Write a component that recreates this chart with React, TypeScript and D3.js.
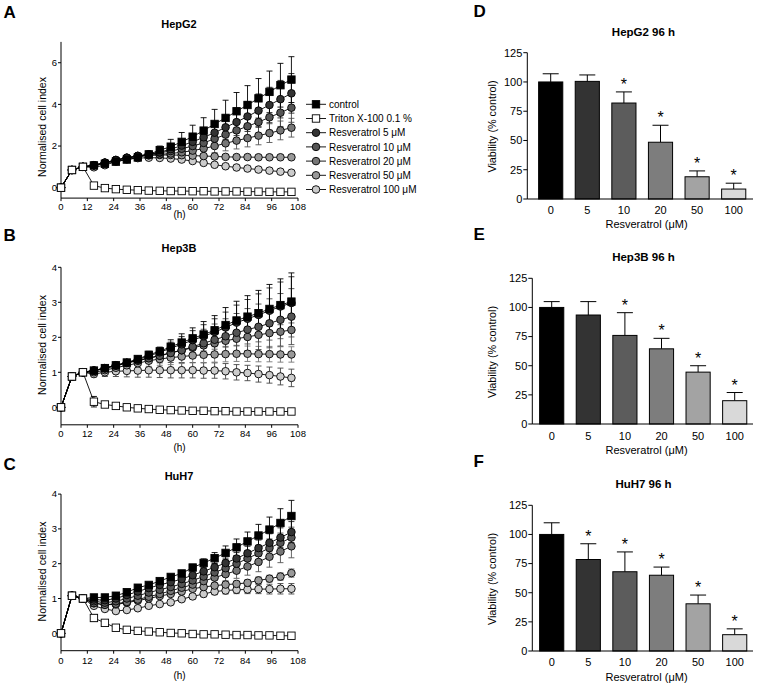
import React from 'react';
import * as d3 from 'd3';

const FONT = '"Liberation Sans", Arial, Helvetica, sans-serif';

// ---------- time-course data ----------
const hours = [0, 5, 10, 15, 20, 25, 30, 35, 40, 45, 50, 55, 60, 65, 70, 75, 80, 85, 90, 95, 100, 105];
const hourTicks = [0, 12, 24, 36, 48, 60, 72, 84, 96, 108];
const seriesLabels = [
  'control',
  'Triton X-100 0.1 %',
  'Resveratrol 5 μM',
  'Resveratrol 10 μM',
  'Resveratrol 20 μM',
  'Resveratrol 50 μM',
  'Resveratrol 100 μM',
];

// HepG2
const hepg2Control = [0, 0.85, 1.0, 1.07, 1.15, 1.25, 1.35, 1.45, 1.6, 1.8, 1.97, 2.2, 2.45, 2.74, 3.06, 3.35, 3.67, 3.97, 4.29, 4.6, 4.92, 5.19];
const hepg2ControlErr = [0, 0.03, 0, 0.04, 0.05, 0.06, 0.08, 0.1, 0.14, 0.2, 0.35, 0.45, 0.55, 0.62, 0.7, 0.85, 0.9, 0.93, 0.95, 1.0, 1.05, 1.1];
const hepg2Triton = [0, 0.85, 1.0, 0.1, -0.02, -0.07, -0.1, -0.12, -0.14, -0.15, -0.16, -0.16, -0.17, -0.17, -0.18, -0.18, -0.18, -0.19, -0.19, -0.2, -0.2, -0.2];
const hepg2TritonErr = [0, 0.02, 0, 0.04, 0.03, 0.03, 0.02, 0.02, 0.02, 0.02, 0.02, 0.02, 0.02, 0.02, 0.02, 0.02, 0.02, 0.02, 0.02, 0.02, 0.02, 0.02];
const hepg2R5 = [0, 0.85, 1.0, 1.08, 1.2, 1.32, 1.43, 1.52, 1.6, 1.7, 1.85, 2.02, 2.2, 2.42, 2.64, 2.9, 3.15, 3.42, 3.7, 3.97, 4.25, 4.53];
const hepg2R5Err = [0, 0.03, 0, 0.04, 0.05, 0.06, 0.07, 0.08, 0.1, 0.14, 0.22, 0.28, 0.35, 0.42, 0.5, 0.58, 0.65, 0.72, 0.8, 0.85, 0.9, 0.95];
const hepg2R10 = [0, 0.85, 1.0, 1.08, 1.2, 1.33, 1.44, 1.53, 1.6, 1.68, 1.76, 1.87, 2.0, 2.15, 2.35, 2.55, 2.75, 2.95, 3.15, 3.38, 3.6, 3.84];
const hepg2R10Err = [0, 0.03, 0, 0.04, 0.05, 0.06, 0.07, 0.08, 0.09, 0.12, 0.18, 0.22, 0.27, 0.32, 0.38, 0.44, 0.5, 0.55, 0.6, 0.62, 0.66, 0.7];
const hepg2R20 = [0, 0.85, 1.0, 1.08, 1.2, 1.33, 1.44, 1.52, 1.57, 1.6, 1.64, 1.7, 1.78, 1.88, 2.0, 2.13, 2.26, 2.38, 2.5, 2.62, 2.75, 2.88];
const hepg2R20Err = [0, 0.03, 0, 0.04, 0.05, 0.06, 0.07, 0.08, 0.09, 0.1, 0.14, 0.18, 0.22, 0.28, 0.32, 0.36, 0.4, 0.42, 0.44, 0.45, 0.45, 0.45];
const hepg2R50 = [0, 0.85, 1.0, 1.07, 1.2, 1.32, 1.42, 1.5, 1.55, 1.57, 1.57, 1.56, 1.54, 1.52, 1.5, 1.48, 1.47, 1.47, 1.46, 1.46, 1.46, 1.46];
const hepg2R50Err = [0, 0.03, 0, 0.03, 0.04, 0.05, 0.05, 0.06, 0.07, 0.08, 0.09, 0.1, 0.1, 0.1, 0.1, 0.1, 0.1, 0.1, 0.1, 0.1, 0.1, 0.1];
const hepg2R100 = [0, 0.85, 1.0, 0.98, 1.08, 1.25, 1.36, 1.42, 1.44, 1.43, 1.4, 1.35, 1.28, 1.19, 1.1, 1.03, 0.97, 0.92, 0.87, 0.82, 0.77, 0.72];
const hepg2R100Err = [0, 0.03, 0, 0.04, 0.05, 0.05, 0.06, 0.06, 0.06, 0.07, 0.07, 0.07, 0.08, 0.08, 0.08, 0.08, 0.08, 0.08, 0.08, 0.08, 0.08, 0.08];

// Hep3B
const hep3bControl = [0, 0.88, 1.0, 1.05, 1.12, 1.2, 1.28, 1.38, 1.5, 1.6, 1.73, 1.85, 1.97, 2.08, 2.2, 2.35, 2.48, 2.59, 2.69, 2.81, 2.92, 3.02];
const hep3bControlErr = [0, 0.02, 0, 0.03, 0.04, 0.05, 0.06, 0.08, 0.1, 0.12, 0.2, 0.25, 0.3, 0.37, 0.42, 0.5, 0.55, 0.6, 0.65, 0.7, 0.75, 0.82];
const hep3bTriton = [0, 0.88, 1.0, 0.16, 0.08, 0.04, 0.0, -0.03, -0.05, -0.07, -0.08, -0.09, -0.1, -0.1, -0.11, -0.11, -0.12, -0.12, -0.12, -0.12, -0.12, -0.12];
const hep3bTritonErr = [0, 0.02, 0, 0.15, 0.06, 0.03, 0.02, 0.02, 0.02, 0.02, 0.02, 0.02, 0.02, 0.02, 0.02, 0.02, 0.02, 0.02, 0.02, 0.02, 0.02, 0.02];
const hep3bR5 = [0, 0.88, 1.0, 1.05, 1.11, 1.19, 1.27, 1.36, 1.47, 1.57, 1.69, 1.8, 1.92, 2.03, 2.15, 2.28, 2.42, 2.53, 2.64, 2.76, 2.88, 2.98];
const hep3bR5Err = [0, 0.02, 0, 0.03, 0.04, 0.05, 0.06, 0.07, 0.09, 0.11, 0.17, 0.22, 0.27, 0.33, 0.38, 0.44, 0.5, 0.55, 0.6, 0.65, 0.7, 0.75];
const hep3bR10 = [0, 0.88, 1.0, 1.05, 1.12, 1.2, 1.27, 1.33, 1.4, 1.47, 1.55, 1.63, 1.73, 1.83, 1.93, 2.03, 2.13, 2.22, 2.3, 2.4, 2.5, 2.59];
const hep3bR10Err = [0, 0.02, 0, 0.03, 0.04, 0.05, 0.06, 0.07, 0.08, 0.1, 0.15, 0.2, 0.3, 0.4, 0.45, 0.5, 0.55, 0.6, 0.65, 0.7, 0.75, 0.8];
const hep3bR20 = [0, 0.88, 1.0, 1.05, 1.12, 1.2, 1.27, 1.34, 1.41, 1.48, 1.56, 1.63, 1.7, 1.77, 1.83, 1.9, 1.96, 2.01, 2.07, 2.12, 2.16, 2.21];
const hep3bR20Err = [0, 0.02, 0, 0.03, 0.04, 0.05, 0.06, 0.07, 0.08, 0.1, 0.12, 0.14, 0.15, 0.16, 0.17, 0.18, 0.19, 0.2, 0.2, 0.2, 0.2, 0.2];
const hep3bR50 = [0, 0.88, 1.0, 1.0, 1.06, 1.13, 1.2, 1.26, 1.33, 1.38, 1.42, 1.45, 1.48, 1.5, 1.51, 1.52, 1.53, 1.53, 1.52, 1.52, 1.51, 1.51];
const hep3bR50Err = [0, 0.02, 0, 0.05, 0.08, 0.1, 0.12, 0.14, 0.16, 0.18, 0.2, 0.2, 0.21, 0.22, 0.22, 0.22, 0.22, 0.22, 0.22, 0.22, 0.22, 0.22];
const hep3bR100 = [0, 0.88, 1.0, 0.95, 1.0, 1.03, 1.04, 1.05, 1.06, 1.06, 1.06, 1.06, 1.06, 1.05, 1.05, 1.03, 1.0, 0.98, 0.95, 0.92, 0.88, 0.84];
const hep3bR100Err = [0, 0.02, 0, 0.08, 0.12, 0.15, 0.17, 0.19, 0.2, 0.21, 0.22, 0.22, 0.22, 0.22, 0.22, 0.22, 0.22, 0.22, 0.23, 0.23, 0.24, 0.25];

// HuH7
const huh7Control = [0, 1.08, 1.0, 1.03, 1.03, 1.08, 1.18, 1.31, 1.39, 1.5, 1.62, 1.72, 1.89, 2.02, 2.16, 2.31, 2.47, 2.64, 2.81, 2.98, 3.17, 3.37];
const huh7ControlErr = [0, 0.03, 0, 0.03, 0.03, 0.04, 0.04, 0.05, 0.05, 0.06, 0.07, 0.08, 0.09, 0.12, 0.16, 0.2, 0.24, 0.27, 0.32, 0.36, 0.41, 0.45];
const huh7Triton = [0, 1.08, 1.0, 0.44, 0.3, 0.16, 0.1, 0.07, 0.05, 0.03, 0.01, 0.0, -0.02, -0.03, -0.03, -0.04, -0.05, -0.05, -0.06, -0.06, -0.07, -0.07];
const huh7TritonErr = [0, 0.03, 0, 0.1, 0.06, 0.04, 0.03, 0.02, 0.02, 0.02, 0.02, 0.02, 0.02, 0.02, 0.02, 0.02, 0.02, 0.02, 0.02, 0.02, 0.02, 0.02];
const huh7R5 = [0, 1.08, 1.0, 0.97, 0.95, 1.0, 1.1, 1.2, 1.3, 1.39, 1.47, 1.56, 1.67, 1.78, 1.9, 2.02, 2.15, 2.3, 2.45, 2.6, 2.75, 2.91];
const huh7R5Err = [0, 0.03, 0, 0.03, 0.03, 0.04, 0.04, 0.05, 0.05, 0.06, 0.07, 0.08, 0.09, 0.1, 0.12, 0.14, 0.17, 0.2, 0.23, 0.26, 0.28, 0.3];
const huh7R10 = [0, 1.08, 1.0, 0.92, 0.88, 0.92, 1.0, 1.08, 1.17, 1.25, 1.33, 1.42, 1.52, 1.63, 1.75, 1.87, 2.0, 2.15, 2.3, 2.45, 2.6, 2.75];
const huh7R10Err = [0, 0.03, 0, 0.03, 0.03, 0.04, 0.04, 0.05, 0.05, 0.06, 0.07, 0.08, 0.09, 0.1, 0.12, 0.14, 0.17, 0.2, 0.23, 0.26, 0.28, 0.3];
const huh7R20 = [0, 1.08, 1.0, 0.87, 0.82, 0.85, 0.9, 0.97, 1.05, 1.13, 1.22, 1.31, 1.4, 1.5, 1.6, 1.7, 1.8, 1.92, 2.05, 2.2, 2.35, 2.5];
const huh7R20Err = [0, 0.03, 0, 0.03, 0.03, 0.04, 0.04, 0.05, 0.05, 0.06, 0.08, 0.1, 0.12, 0.14, 0.16, 0.19, 0.22, 0.25, 0.28, 0.3, 0.32, 0.33];
const huh7R50 = [0, 1.08, 1.0, 0.86, 0.82, 0.83, 0.88, 0.94, 1.0, 1.07, 1.13, 1.2, 1.28, 1.33, 1.37, 1.4, 1.42, 1.45, 1.52, 1.57, 1.63, 1.73];
const huh7R50Err = [0, 0.03, 0, 0.03, 0.03, 0.03, 0.04, 0.04, 0.04, 0.05, 0.05, 0.06, 0.06, 0.07, 0.07, 0.08, 0.08, 0.09, 0.1, 0.1, 0.11, 0.12];
const huh7R100 = [0, 1.08, 1.0, 0.79, 0.7, 0.64, 0.67, 0.72, 0.79, 0.84, 0.89, 0.98, 1.06, 1.13, 1.2, 1.23, 1.25, 1.26, 1.27, 1.27, 1.28, 1.28];
const huh7R100Err = [0, 0.03, 0, 0.04, 0.04, 0.04, 0.04, 0.05, 0.05, 0.05, 0.06, 0.06, 0.07, 0.08, 0.09, 0.1, 0.11, 0.12, 0.13, 0.14, 0.15, 0.15];

// ---------- viability data ----------
const doses = ['0', '5', '10', '20', '50', '100'];
const hepg2Viability = [100, 100.5, 82, 48.5, 19, 8.5];
const hepg2ViabilityErr = [7, 5.5, 9.5, 14.5, 5, 5];
const hepg2Sig = [false, false, true, true, true, true];
const hep3bViability = [100, 93.5, 76, 64.5, 44.5, 20];
const hep3bViabilityErr = [5, 11.5, 19.5, 9, 5.5, 7];
const hep3bSig = [false, false, true, true, true, true];
const huh7Viability = [100, 78.5, 68, 65, 40.5, 14];
const huh7ViabilityErr = [10, 13.5, 17, 7, 7.5, 5];
const huh7Sig = [false, true, true, true, true, true];
const viabilityTicks = [0, 25, 50, 75, 100, 125];

// ---------- styles ----------
const seriesStyles = [
  { shape: 'square', fill: '#000000', err: '#000000' },
  { shape: 'square', fill: '#ffffff', err: '#000000' },
  { shape: 'circle', fill: '#333333', err: '#222222' },
  { shape: 'circle', fill: '#555555', err: '#444444' },
  { shape: 'circle', fill: '#777777', err: '#555555' },
  { shape: 'circle', fill: '#999999', err: '#777777' },
  { shape: 'circle', fill: '#cccccc', err: '#444444' },
];
const barFills = ['#000000', '#333333', '#5c5c5c', '#7d7d7d', '#a3a3a3', '#d9d9d9'];

type LineCfg = {
  letter: string; title: string; values: number[][]; errs: number[][];
  yDomain: [number, number]; yBottom: number; yTop: number; yTicks: number[];
  letterY: number; titleY: number; tickY: number; hY: number; yLabelY: number; legend: boolean;
};

const linePanels: LineCfg[] = [
  {
    letter: 'A', title: 'HepG2',
    values: [hepg2Control, hepg2Triton, hepg2R5, hepg2R10, hepg2R20, hepg2R50, hepg2R100],
    errs: [hepg2ControlErr, hepg2TritonErr, hepg2R5Err, hepg2R10Err, hepg2R20Err, hepg2R50Err, hepg2R100Err],
    yDomain: [-0.5, 7], yBottom: 198.1, yTop: 41.9, yTicks: [0, 2, 4, 6],
    letterY: 18.3, titleY: 28, tickY: 209.5, hY: 218, yLabelY: 127, legend: true,
  },
  {
    letter: 'B', title: 'Hep3B',
    values: [hep3bControl, hep3bTriton, hep3bR5, hep3bR10, hep3bR20, hep3bR50, hep3bR100],
    errs: [hep3bControlErr, hep3bTritonErr, hep3bR5Err, hep3bR10Err, hep3bR20Err, hep3bR50Err, hep3bR100Err],
    yDomain: [-0.5, 4], yBottom: 424.8, yTop: 267.3, yTicks: [0, 1, 2, 3, 4],
    letterY: 240.7, titleY: 252.3, tickY: 437, hY: 450.5, yLabelY: 345, legend: false,
  },
  {
    letter: 'C', title: 'HuH7',
    values: [huh7Control, huh7Triton, huh7R5, huh7R10, huh7R20, huh7R50, huh7R100],
    errs: [huh7ControlErr, huh7TritonErr, huh7R5Err, huh7R10Err, huh7R20Err, huh7R50Err, huh7R100Err],
    yDomain: [-0.5, 4], yBottom: 650.7, yTop: 494.1, yTicks: [0, 1, 2, 3, 4],
    letterY: 470, titleY: 480, tickY: 664.3, hY: 678.5, yLabelY: 571.5, legend: false,
  },
];

type BarCfg = {
  letter: string; title: string; values: number[]; errs: number[]; sig: boolean[];
  axisX: number; c0: number; y0: number; yTop: number;
  letterY: number; titleY: number; tickY: number; xLabelY: number; yLabelY: number;
};

const barPanels: BarCfg[] = [
  {
    letter: 'D', title: 'HepG2 96 h', values: hepg2Viability, errs: hepg2ViabilityErr, sig: hepg2Sig,
    axisX: 527.3, c0: 550.7, y0: 199, yTop: 52.7,
    letterY: 17.3, titleY: 35.5, tickY: 214.3, xLabelY: 228, yLabelY: 126.5,
  },
  {
    letter: 'E', title: 'Hep3B 96 h', values: hep3bViability, errs: hep3bViabilityErr, sig: hep3bSig,
    axisX: 532.3, c0: 551.7, y0: 424, yTop: 278.3,
    letterY: 240, titleY: 260.7, tickY: 439.6, xLabelY: 453.5, yLabelY: 352,
  },
  {
    letter: 'F', title: 'HuH7 96 h', values: huh7Viability, errs: huh7ViabilityErr, sig: huh7Sig,
    axisX: 532.3, c0: 551.7, y0: 651, yTop: 505.3,
    letterY: 467.3, titleY: 488, tickY: 666.3, xLabelY: 681, yLabelY: 579,
  },
];

const SQ = 7.4;
const CR = 3.8;

function Marker({ shape, fill, cx, cy }: { shape: string; fill: string; cx: number; cy: number }) {
  if (shape === 'square') {
    return <rect x={cx - SQ / 2} y={cy - SQ / 2} width={SQ} height={SQ} fill={fill} stroke="#000" strokeWidth={0.9} />;
  }
  return <circle cx={cx} cy={cy} r={CR} fill={fill} stroke="#000" strokeWidth={0.9} />;
}

function LinePanel({ p }: { p: LineCfg }) {
  const x = d3.scaleLinear().domain([0, 108]).range([61, 298]);
  const y = d3.scaleLinear().domain(p.yDomain).range([p.yBottom, p.yTop]);
  const line = d3.line<number>().x((_, i) => x(hours[i])).y((d) => y(d));
  const order = [6, 5, 4, 3, 2, 0, 1];
  const xAxisY = y(p.yDomain[0]);
  return (
    <g fontFamily={FONT}>
      <text x={3.5} y={p.letterY} fontSize={17} fontWeight="bold">{p.letter}</text>
      <text x={179} y={p.titleY} fontSize={11} fontWeight="bold" textAnchor="middle">{p.title}</text>
      <line x1={61} x2={61} y1={xAxisY} y2={y(p.yDomain[1])} stroke="#000" strokeWidth={1} />
      <line x1={61} x2={x(108)} y1={xAxisY} y2={xAxisY} stroke="#000" strokeWidth={1} />
      {p.yTicks.map((t) => (
        <g key={'yt' + t}>
          <line x1={58} x2={61} y1={y(t)} y2={y(t)} stroke="#000" />
          <text x={57} y={y(t) + 3.3} fontSize={9.5} textAnchor="end">{t}</text>
        </g>
      ))}
      {hourTicks.map((t) => (
        <g key={'xt' + t}>
          <line x1={x(t)} x2={x(t)} y1={xAxisY} y2={xAxisY + 3} stroke="#000" />
          <text x={x(t)} y={p.tickY} fontSize={9.5} textAnchor="middle">{t}</text>
        </g>
      ))}
      <text x={x(54)} y={p.hY} fontSize={10} textAnchor="middle">(h)</text>
      <text transform={`translate(45.5,${p.yLabelY}) rotate(-90)`} fontSize={10.5} textAnchor="middle">Normalised cell index</text>
      {order.map((si) => (
        <g key={'e' + si} stroke={seriesStyles[si].err} strokeWidth={0.9}>
          {p.values[si].map((v, i) => {
            const e = p.errs[si][i];
            if (e <= 0) return null;
            const cx = x(hours[i]);
            const y1 = y(v + e);
            const y2 = y(v - e);
            return (
              <g key={i}>
                <line x1={cx} x2={cx} y1={y1} y2={y2} />
                <line x1={cx - 3} x2={cx + 3} y1={y1} y2={y1} />
                <line x1={cx - 3} x2={cx + 3} y1={y2} y2={y2} />
              </g>
            );
          })}
        </g>
      ))}
      {order.map((si) => (
        <path key={'l' + si} d={line(p.values[si]) || ''} fill="none" stroke="#000" strokeWidth={0.9} />
      ))}
      {order.map((si) => (
        <g key={'m' + si}>
          {p.values[si].map((v, i) => (
            <Marker key={i} shape={seriesStyles[si].shape} fill={seriesStyles[si].fill} cx={x(hours[i])} cy={y(v)} />
          ))}
        </g>
      ))}
      {p.legend && (
        <g>
          {seriesLabels.map((lab, i) => {
            const ly = 104.3 + i * 14.2;
            return (
              <g key={lab}>
                <line x1={306} x2={326} y1={ly} y2={ly} stroke="#000" strokeWidth={0.9} />
                <Marker shape={seriesStyles[i].shape} fill={seriesStyles[i].fill} cx={316} cy={ly} />
                <text x={329} y={ly + 3.6} fontSize={10}>{lab}</text>
              </g>
            );
          })}
        </g>
      )}
    </g>
  );
}

function BarPanel({ p }: { p: BarCfg }) {
  const step = 36.6;
  const x = d3.scaleBand<string>().domain(doses)
    .range([p.c0 - step / 2, p.c0 + 5.5 * step]).paddingInner(0.34).paddingOuter(0.17);
  const y = d3.scaleLinear().domain([0, 125]).range([p.y0, p.yTop]);
  const bw = x.bandwidth();
  return (
    <g fontFamily={FONT}>
      <text x={473.5} y={p.letterY} fontSize={17} fontWeight="bold">{p.letter}</text>
      <text x={643.5} y={p.titleY} fontSize={11.5} fontWeight="bold" textAnchor="middle">{p.title}</text>
      {doses.map((d, i) => {
        const bx = x(d) as number;
        const cx = bx + bw / 2;
        const top = y(p.values[i]);
        const et = y(p.values[i] + p.errs[i]);
        return (
          <g key={d}>
            <line x1={cx} x2={cx} y1={top} y2={et} stroke="#000" strokeWidth={1} />
            <line x1={cx - 8} x2={cx + 8} y1={et} y2={et} stroke="#000" strokeWidth={1} />
            <rect x={bx} y={top} width={bw} height={p.y0 - top} fill={barFills[i]} stroke="#000" strokeWidth={1} />
            {p.sig[i] && (
              <text x={cx} y={et - 2} fontSize={16} textAnchor="middle">*</text>
            )}
            <text x={cx} y={p.tickY} fontSize={11} textAnchor="middle">{d}</text>
          </g>
        );
      })}
      <line x1={p.axisX} x2={p.axisX} y1={p.y0} y2={p.yTop} stroke="#000" strokeWidth={1} />
      <line x1={p.axisX} x2={753} y1={p.y0} y2={p.y0} stroke="#000" strokeWidth={1} />
      {viabilityTicks.map((t) => (
        <g key={t}>
          <line x1={p.axisX - 4} x2={p.axisX} y1={y(t)} y2={y(t)} stroke="#000" />
          <text x={p.axisX - 5} y={y(t) + 3.8} fontSize={11} textAnchor="end">{t}</text>
        </g>
      ))}
      <text x={646.5} y={p.xLabelY} fontSize={11} textAnchor="middle">Resveratrol (μM)</text>
      <text transform={`translate(495.5,${p.yLabelY}) rotate(-90)`} fontSize={10.8} textAnchor="middle">Viability (% control)</text>
    </g>
  );
}

export default function App() {
  return (
    <svg width={757} height={686} style={{ position: 'absolute', left: 0, top: 0, background: '#fff' }}>
      <rect x={0} y={0} width={757} height={686} fill="#fff" />
      {linePanels.map((p) => <LinePanel key={p.letter} p={p} />)}
      {barPanels.map((p) => <BarPanel key={p.letter} p={p} />)}
    </svg>
  );
}
